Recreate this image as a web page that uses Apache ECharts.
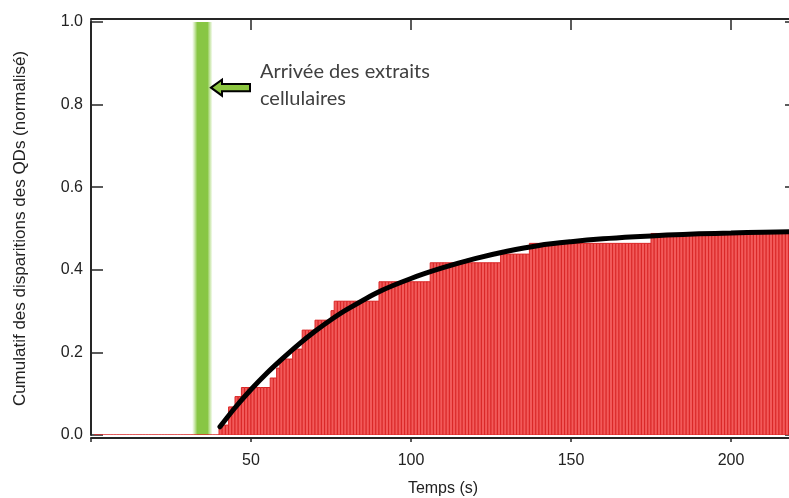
<!DOCTYPE html>
<html>
<head>
<meta charset="utf-8">
<script src="https://cdn.jsdelivr.net/npm/echarts@6/dist/echarts.min.js"></script>
<style>
html,body{margin:0;padding:0;background:#fff;}
#c{width:789px;height:498px;}
</style>
</head>
<body>
<div id="c"></div>
<script>
// Cumulative histogram: bar n covers [n, n+1) seconds, n = 1..219
const binValues = [
  0,0,0,0,0,0,0,0,0,0, 0,0,0,0,0,0,0,0,0,0, 0,0,0,0,0,0,0,0,0,0, 0,0,0,0,0,0,0,0,0,
  0.024,0.024,0.024, 0.068,0.068, 0.093,0.093,
  0.115,0.115,0.115,0.115,0.115,0.115,0.115,0.115,0.115,
  0.138,0.138, 0.162, 0.184,0.184,0.184,0.184, 0.208,0.208,0.208,
  0.254,0.254,0.254,0.254, 0.278,0.278,0.278,0.278,0.278, 0.301,
  0.324,0.324,0.324,0.324,0.324,0.324,0.324,0.324,0.324,0.324,0.324,0.324,0.324,0.324,
  0.371,0.371,0.371,0.371,0.371,0.371,0.371,0.371,0.371,0.371,0.371,0.371,0.371,0.371,0.371,0.371,
  0.417,0.417,0.417,0.417,0.417,0.417,0.417,0.417,0.417,0.417,0.417,0.417,0.417,0.417,0.417,0.417,0.417,0.417,0.417,0.417,0.417,0.417,
  0.438,0.438,0.438,0.438,0.438,0.438,0.438,0.438,0.438,
  0.464,0.464,0.464,0.464,0.464,0.464,0.464,0.464,0.464,0.464,0.464,0.464,0.464,0.464,0.464,0.464,0.464,0.464,0.464,
  0.464,0.464,0.464,0.464,0.464,0.464,0.464,0.464,0.464,0.464,0.464,0.464,0.464,0.464,0.464,0.464,0.464,0.464,0.464,
  0.488,0.488,0.488,0.488,0.488,0.488,0.488,0.488,0.488,0.488,0.488,0.488,0.488,0.488,0.488,
  0.488,0.488,0.488,0.488,0.488,0.488,0.488,0.488,0.488,0.488,0.488,0.488,0.488,0.488,0.488,
  0.488,0.488,0.488,0.488,0.488,0.488,0.488,0.488,0.488,0.488,0.488,0.488,0.488,0.488,0.488
];
const firstBin = 1;

// Fitted curve, points
const fitX = [40.3, 45, 50, 55, 60, 65, 70, 75, 80, 90, 100, 110, 120, 130, 140, 150, 160, 170, 180, 190, 200, 210, 220];
const fitY = [0.020, 0.066, 0.110, 0.150, 0.186, 0.220, 0.251, 0.279, 0.304, 0.347, 0.379, 0.405, 0.427, 0.445, 0.459, 0.468, 0.475, 0.480, 0.484, 0.487, 0.489, 0.491, 0.492];

// Arrival of cell extracts (green band)
const arrivalBand = [31.6, 38.0];
const annotationText = ['Arrivée des extraits', 'cellulaires'];

const xTicks = [50, 100, 150, 200];
const yTickLabels = ['0.0', '0.2', '0.4', '0.6', '0.8', '1.0'];

const barData = binValues.map((v, i) => [firstBin + i, v]);
const curveData = fitX.map((x, i) => [x, fitY[i]]);

const chart = echarts.init(document.getElementById('c'), null, {renderer: 'canvas'});
const axisColor = '#262626';
const font = '"Liberation Sans", Arial, sans-serif';

chart.setOption({
  animation: false,
  backgroundColor: '#fff',
  grid: {left: 91, top: 22, width: 704, height: 413, containLabel: false, outerBoundsMode: 'none'},
  xAxis: [{
    type: 'value', position: 'bottom', min: 0, max: 220, interval: 50, offset: 3,
    axisLine: {show: true, onZero: false, lineStyle: {color: axisColor, width: 2}},
    axisTick: {show: true, inside: false, length: 4, lineStyle: {color: axisColor, width: 1.5}},
    axisLabel: {show: true, margin: 15, color: '#222', fontSize: 16, fontFamily: font,
      formatter: v => (xTicks.indexOf(v) >= 0 ? String(v) : '')},
    splitLine: {show: false},
    name: 'Temps (s)', nameLocation: 'middle', nameGap: 43,
    nameTextStyle: {color: '#222', fontSize: 16, fontFamily: font}
  }, {
    type: 'value', position: 'top', min: 0, max: 220, interval: 50, offset: 3,
    axisLine: {show: true, onZero: false, lineStyle: {color: axisColor, width: 2}},
    axisTick: {show: true, inside: true, length: 11, lineStyle: {color: axisColor, width: 1.5}},
    axisLabel: {show: false}, splitLine: {show: false}
  }],
  yAxis: [{
    type: 'value', position: 'left', min: 0, max: 1, interval: 0.2,
    axisLine: {show: true, onZero: false, lineStyle: {color: axisColor, width: 2}},
    axisTick: {show: true, inside: true, length: 12, lineStyle: {color: axisColor, width: 1.5}},
    axisLabel: {show: true, margin: 8, color: '#222', fontSize: 16, fontFamily: font,
      formatter: (v) => yTickLabels[Math.round(v / 0.2)] || ''},
    splitLine: {show: false},
    name: 'Cumulatif des disparitions des QDs (normalisé)', nameLocation: 'middle', nameRotate: 90, nameGap: 62,
    nameTextStyle: {color: '#222', fontSize: 17, fontFamily: font}
  }, {
    type: 'value', position: 'right', min: 0, max: 1, interval: 0.2,
    axisLine: {show: true, onZero: false, lineStyle: {color: axisColor, width: 2}},
    axisTick: {show: true, inside: true, length: 10, lineStyle: {color: axisColor, width: 1.5}},
    axisLabel: {show: false}, splitLine: {show: false}
  }],
  series: [{
    type: 'custom', name: 'hist', xAxisIndex: 0, yAxisIndex: 0, clip: true, z: 3,
    data: barData,
    renderItem: function (params, api) {
      const x = api.value(0), v = api.value(1);
      const p0 = api.coord([x, v]);
      const p1 = api.coord([x + 1, 0]);
      return {
        type: 'rect',
        shape: {x: p0[0], y: p0[1], width: p1[0] - p0[0], height: p1[1] - p0[1]},
        style: {fill: '#f25a5a', stroke: '#d92626', lineWidth: 1}
      };
    }
  }, {
    type: 'line', name: 'fit', xAxisIndex: 0, yAxisIndex: 0, z: 5, clip: true,
    data: curveData, smooth: 0.3, showSymbol: false, symbol: 'none',
    lineStyle: {color: '#000', width: 5, cap: 'round'},
    markArea: {
      silent: true, z: 1,
      itemStyle: {
        color: {type: 'linear', x: 0, y: 0, x2: 1, y2: 0, colorStops: [
          {offset: 0, color: 'rgba(160,214,100,0)'},
          {offset: 0.25, color: 'rgba(136,198,68,1)'},
          {offset: 0.75, color: 'rgba(136,198,68,1)'},
          {offset: 1, color: 'rgba(160,214,100,0)'}
        ]}
      },
      data: [[{xAxis: arrivalBand[0], yAxis: 0}, {xAxis: arrivalBand[1], yAxis: 1}]]
    }
  }]
});

// Annotation: arrow + text, anchored in data coordinates
const tip = chart.convertToPixel({xAxisIndex: 0, yAxisIndex: 0}, [37.5, 0.841]);
const txt = chart.convertToPixel({xAxisIndex: 0, yAxisIndex: 0}, [52.8, 0.913]);
chart.setOption({
  graphic: [{
    type: 'polygon', z: 100,
    shape: {points: [
      [tip[0], tip[1]], [tip[0] + 11, tip[1] - 8], [tip[0] + 11, tip[1] - 3.7],
      [tip[0] + 39, tip[1] - 3.7], [tip[0] + 39, tip[1] + 3.7], [tip[0] + 11, tip[1] + 3.7],
      [tip[0] + 11, tip[1] + 8]
    ]},
    style: {fill: '#8cc63f', stroke: '#000', lineWidth: 2}
  }, {
    type: 'text', z: 100, x: txt[0], y: txt[1],
    style: {text: annotationText.join('\n'), fill: '#404040', font: '20px Lato, "Open Sans", sans-serif',
      lineHeight: 27, textVerticalAlign: 'top', textAlign: 'left'}
  }]
});
</script>
</body>
</html>
